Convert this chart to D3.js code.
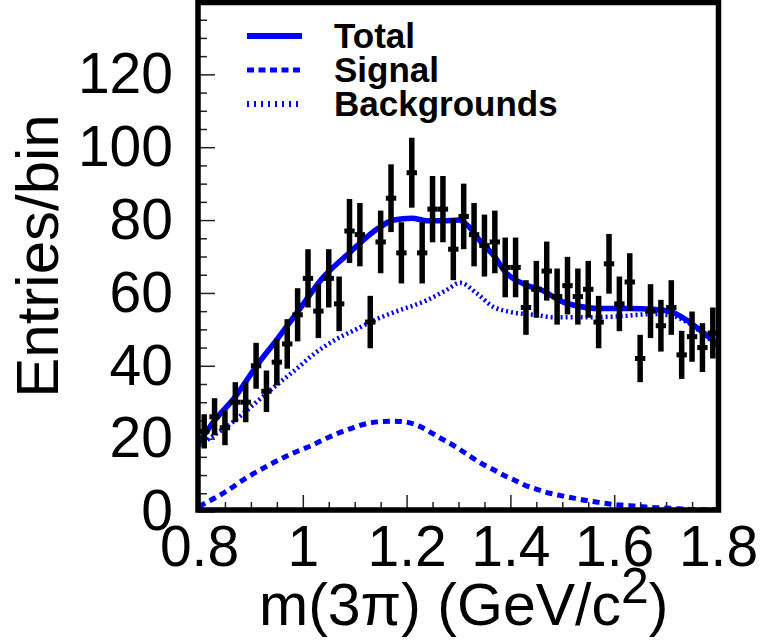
<!DOCTYPE html>
<html>
<head>
<meta charset="utf-8">
<script src="https://cdn.jsdelivr.net/npm/d3@7"></script>
<style>
  body { margin: 0; background: #fff; }
  svg { display: block; }
</style>
</head>
<body>
<svg id="chart" width="762" height="640"></svg>
<script>
// ---------------- data ----------------
const binCenters = [0.81,0.83,0.85,0.87,0.89,0.91,0.93,0.95,0.97,0.99,
                    1.01,1.03,1.05,1.07,1.09,1.11,1.13,1.15,1.17,1.19,
                    1.21,1.23,1.25,1.27,1.29,1.31,1.33,1.35,1.37,1.39,
                    1.41,1.43,1.45,1.47,1.49,1.51,1.53,1.55,1.57,1.59,
                    1.61,1.63,1.65,1.67,1.69,1.71,1.73,1.75,1.77,1.79];
const entries = [22,26,23,30,30,40,33,41,46,54,
                 64,55,64,57,77,76,52,74,86,71,
                 93,71,83,83,72,81,76,73,74,67,
                 67,56,61,66,59,62,59,61,52,68,
                 57,63,42,55,51,56,43,48,45,49];
const entryErrors = [4.7,5.1,4.8,5.5,5.5,6.3,5.7,6.4,6.8,7.3,
                     8.0,7.4,8.0,7.5,8.8,8.7,7.2,8.6,9.3,8.4,
                     9.6,8.4,9.1,9.1,8.5,9.0,8.7,8.5,8.6,8.2,
                     8.2,7.5,7.8,8.1,7.7,7.9,7.7,7.8,7.2,8.2,
                     7.5,7.9,6.5,7.4,7.1,7.5,6.6,6.9,6.7,7.0];

const totalX = [0.80,0.83,0.87,0.91,0.95,0.99,1.04,1.085,1.15,1.175,1.21,1.24,1.27,1.30,1.32,1.34,1.37,1.39,1.43,1.46,1.50,1.53,1.57,1.63,1.675,1.71,1.74,1.77,1.80];
const totalY = [18.8,25.0,31.5,39.8,47.2,54.8,64.4,70.4,78.2,80.0,80.5,79.8,79.8,80.0,78.2,74.5,69.9,65.8,62.2,60.8,57.6,56.4,55.7,55.7,55.5,54.8,52.5,49.3,45.7];

const signalX = [0.80,0.85,0.889,0.934,0.979,1.018,1.05,1.095,1.133,1.172,1.197,1.223,1.262,1.301,1.323,1.343,1.366,1.388,1.411,1.428,1.451,1.476,1.499,1.525,1.547,1.57,1.595,1.618,1.644,1.669,1.692,1.717,1.743,1.765,1.80];
const signalY = [1.4,5.3,9.0,12.7,15.9,18.2,20.4,22.9,24.4,24.8,24.6,23.5,20.4,17.2,15.1,13.3,11.6,9.9,8.4,7.2,6.1,5.0,4.3,3.6,3.0,2.5,2.0,1.7,1.5,1.1,1.0,0.8,0.6,0.5,0.5];

const bkgX = [0.80,0.83,0.87,0.908,0.946,0.985,1.023,1.062,1.10,1.139,1.174,1.239,1.277,1.303,1.335,1.367,1.399,1.451,1.483,1.547,1.611,1.675,1.71,1.74,1.77,1.80];
const bkgY = [18.2,21.0,25.1,29.7,34.3,38.8,43.4,47.1,49.8,52.6,54.6,58.0,60.8,62.8,59.9,56.2,54.8,53.9,53.3,53.3,53.6,54.2,53.8,52.0,48.9,45.4];

const yMajorTicks = [0,20,40,60,80,100,120];
const xMajorTicks = [0.8,1.0,1.2,1.4,1.6,1.8];
const xTickLabels = ["0.8","1","1.2","1.4","1.6","1.8"];
const legendLabels = ["Total","Signal","Backgrounds"];

// ---------------- drawing ----------------
const svg = d3.select("#chart");
const x = d3.scaleLinear().domain([0.8, 1.8]).range([199, 718]);
const y = d3.scaleLinear().domain([0, 140]).range([511.5, 1.5]);
const FONT = "'Liberation Sans', Arial, Helvetica, sans-serif";
const BLUE = "#0000ff";

svg.append("rect").attr("width", 762).attr("height", 640).attr("fill", "#fff");

// minor & major ticks (left)
const yMinor = d3.range(0, 140.01, 5).filter(v => v % 20 !== 0);
const yAxisMinor = d3.axisLeft(y).tickValues(yMinor).tickSize(-9).tickFormat("");
const yAxisMajor = d3.axisLeft(y).tickValues(yMajorTicks).tickSize(-17).tickPadding(25).tickFormat(d3.format("d"));
const gy1 = svg.append("g").attr("transform", "translate(198,0)").call(yAxisMinor);
const gy2 = svg.append("g").attr("transform", "translate(198,0)").call(yAxisMajor);

const xMinor = d3.range(0.8, 1.8001, 0.05).filter(v => Math.abs(v*5 - Math.round(v*5)) > 1e-6);
const xAxisMinor = d3.axisBottom(x).tickValues(xMinor).tickSize(-8).tickFormat("");
const xAxisMajor = d3.axisBottom(x).tickValues(xMajorTicks).tickSize(-15).tickPadding(16)
  .tickFormat((d, i) => xTickLabels[i]);
const gx1 = svg.append("g").attr("transform", "translate(0,510)").call(xAxisMinor);
const gx2 = svg.append("g").attr("transform", "translate(0,510)").call(xAxisMajor);

[gy1, gy2, gx1, gx2].forEach(g => {
  g.select(".domain").remove();
  g.selectAll(".tick line").attr("stroke", "#222").attr("stroke-width", 1.5);
  g.selectAll("text").attr("fill", "#000").style("font-family", FONT).style("font-size", "57px");
});

// clip
svg.append("clipPath").attr("id", "plotclip")
  .append("rect").attr("x", 199).attr("y", 2).attr("width", 519).attr("height", 508);
const plot = svg.append("g").attr("clip-path", "url(#plotclip)");

// curves
const line = d3.line().x(d => x(d[0])).y(d => y(d[1])).curve(d3.curveMonotoneX);
plot.append("path").datum(bkgX.map((v, i) => [v, bkgY[i]]))
  .attr("d", line).attr("fill", "none").attr("stroke", BLUE)
  .attr("stroke-width", 4.5).attr("stroke-dasharray", "2,3");
plot.append("path").datum(signalX.map((v, i) => [v, signalY[i]]))
  .attr("d", line).attr("fill", "none").attr("stroke", BLUE)
  .attr("stroke-width", 5).attr("stroke-dasharray", "7,5");
plot.append("path").datum(totalX.map((v, i) => [v, totalY[i]]))
  .attr("d", line).attr("fill", "none").attr("stroke", BLUE)
  .attr("stroke-width", 5.5);

// data points
const pts = plot.append("g").selectAll("g").data(binCenters.map((m, i) => ({m, n: entries[i], e: entryErrors[i]})))
  .join("g");
pts.append("line")
  .attr("x1", d => x(d.m)).attr("x2", d => x(d.m))
  .attr("y1", d => y(d.n - d.e)).attr("y2", d => y(d.n + d.e))
  .attr("stroke", "#000").attr("stroke-width", 5.5);
pts.append("line")
  .attr("x1", d => x(d.m - 0.01)).attr("x2", d => x(d.m + 0.01))
  .attr("y1", d => y(d.n)).attr("y2", d => y(d.n))
  .attr("stroke", "#000").attr("stroke-width", 5);

// frame
svg.append("rect").attr("x", 198).attr("y", 2.5).attr("width", 520.5).attr("height", 507.5)
  .attr("fill", "none").attr("stroke", "#000").attr("stroke-width", 5.5);

// legend
const legendStyles = [
  {w: 6, dash: null, yy: 36},
  {w: 5, dash: "7,4.5", yy: 70},
  {w: 6, dash: "2,5", yy: 104}
];
legendStyles.forEach((s, i) => {
  const l = svg.append("line").attr("x1", 247).attr("x2", 302).attr("y1", s.yy).attr("y2", s.yy)
    .attr("stroke", BLUE).attr("stroke-width", s.w);
  if (s.dash) l.attr("stroke-dasharray", s.dash);
  svg.append("text").attr("x", 334).attr("y", s.yy + 12)
    .style("font-family", FONT).style("font-size", "35px").style("font-weight", "bold")
    .text(legendLabels[i]);
});

// axis titles
const xt = svg.append("text").attr("x", 259).attr("y", 625)
  .style("font-family", FONT).style("font-size", "59px").attr("fill", "#000");
xt.append("tspan").text("m(3");
xt.append("tspan").text("π");
xt.append("tspan").text(") (GeV/c");
xt.append("tspan").attr("dy", -22).style("font-size", "50px").text("2");
xt.append("tspan").attr("dy", 22).text(")");

svg.append("text").attr("transform", "translate(58,256) rotate(-90)")
  .attr("text-anchor", "middle")
  .style("font-family", FONT).style("font-size", "60px").attr("fill", "#000")
  .text("Entries/bin");
</script>
</body>
</html>
